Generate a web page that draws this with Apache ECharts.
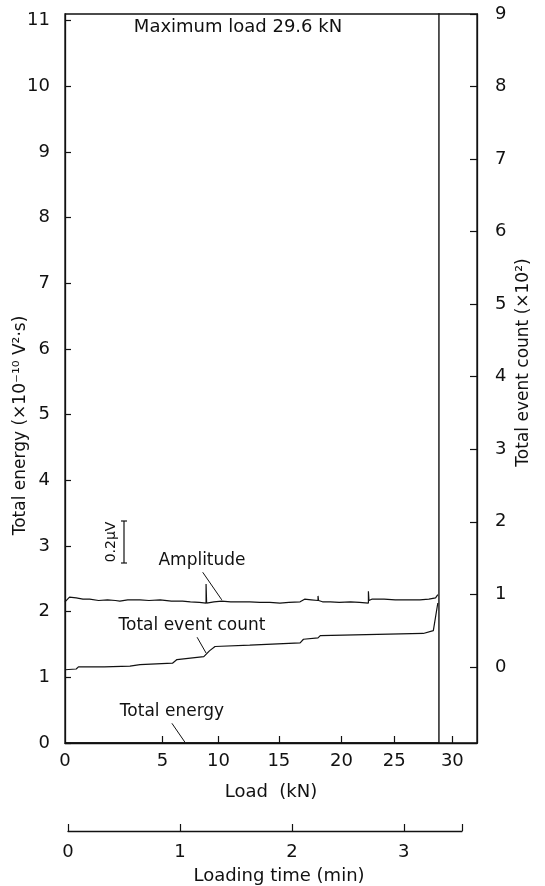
<!DOCTYPE html>
<html>
<head>
<meta charset="utf-8">
<script src="https://cdn.jsdelivr.net/npm/echarts@6/dist/echarts.min.js"></script>
<style>
html, body { margin: 0; padding: 0; background: #fff; }
#main { width: 545px; height: 886px; }
</style>
</head>
<body>
<div id="main"></div>
<script>
// load ticks sit at the recorder time (min) where that load was reached
var loadTickTimes = [0, 0.87, 1.37, 1.91, 2.47, 2.94, 3.46];
var loadTickLabels = ['0', '5', '10', '15', '20', '25', '30'];
var timeTicks = [0, 1, 2, 3];
var timeAxisEnd = 3.52;
var energyTicks = [0, 1, 2, 3, 4, 5, 6, 7, 8, 9, 10, 11];
var countTicks = [0, 1, 2, 3, 4, 5, 6, 7, 8, 9];

// [time (min), value]
var amplitude = [
    [0, 2.15], [0.04, 2.22], [0.1, 2.21], [0.16, 2.19], [0.22, 2.19], [0.3, 2.17],
    [0.38, 2.18], [0.45, 2.17], [0.49, 2.16], [0.56, 2.18], [0.62, 2.18], [0.67, 2.18],
    [0.75, 2.17], [0.85, 2.18], [0.95, 2.16], [1.05, 2.16], [1.12, 2.15], [1.2, 2.14],
    [1.26, 2.13], [1.26, 2.42], [1.265, 2.13], [1.33, 2.15], [1.4, 2.16], [1.48, 2.15],
    [1.56, 2.15], [1.65, 2.15], [1.74, 2.14], [1.83, 2.14], [1.92, 2.13], [2.0, 2.14],
    [2.1, 2.15], [2.14, 2.19], [2.2, 2.18], [2.26, 2.17], [2.26, 2.24], [2.265, 2.17],
    [2.3, 2.15], [2.37, 2.15], [2.45, 2.14], [2.55, 2.15], [2.63, 2.14], [2.71, 2.13],
    [2.71, 2.31], [2.715, 2.17], [2.74, 2.19], [2.85, 2.19], [2.95, 2.18], [3.05, 2.18],
    [3.17, 2.18], [3.25, 2.19], [3.31, 2.21], [3.33, 2.26]
];
var eventCount = [
    [0, -0.04], [0.1, -0.03], [0.12, 0.0], [0.35, 0.0], [0.58, 0.01], [0.67, 0.03],
    [0.96, 0.05], [1.0, 0.1], [1.24, 0.14], [1.29, 0.22], [1.34, 0.28], [1.65, 0.3],
    [2.1, 0.33], [2.13, 0.38], [2.26, 0.4], [2.28, 0.43], [3.2, 0.46], [3.29, 0.5],
    [3.33, 0.88]
];
var totalEnergy = [[0, 0], [3.34, 0], [3.34, 12]];

// leader lines from the curve names to the curves
var leaderAmp = [[1.23, 2.6], [1.4, 2.18]];
var leaderCount = [[1.18, 1.61], [1.26, 1.37]];
var leaderEnergy = [[0.955, 0.3], [1.07, 0.015]];

var FONT = 'DejaVu Sans';
var INK = '#111';

var chart = echarts.init(document.getElementById('main'));

function lineSeries(data, yIdx, width) {
    return {
        type: 'line',
        xAxisIndex: 0,
        yAxisIndex: yIdx,
        data: data,
        showSymbol: false,
        silent: true,
        animation: false,
        lineStyle: { color: INK, width: width }
    };
}

var option = {
    backgroundColor: '#fff',
    animation: false,
    grid: [
        { left: 65, top: 14, width: 412, height: 729, outerBoundsMode: 'none', containLabel: false,
          show: true, borderColor: INK, borderWidth: 1.3, backgroundColor: 'transparent' },
        { left: 68, top: 830, width: 394, height: 1, outerBoundsMode: 'none', containLabel: false }
    ],
    xAxis: [{
        type: 'value',
        gridIndex: 0,
        min: 0,
        max: 3.68,
        axisLine: { onZero: false, lineStyle: { color: INK, width: 1.3 } },
        splitLine: { show: false },
        axisTick: { inside: true, length: 7, customValues: loadTickTimes.slice(1), lineStyle: { color: INK, width: 1.2 } },
        axisLabel: {
            customValues: loadTickTimes,
            margin: 9,
            color: INK,
            fontFamily: FONT,
            fontSize: 18,
            formatter: function (v) {
                var i = loadTickTimes.indexOf(v);
                return i >= 0 ? loadTickLabels[i] : '';
            }
        },
        name: 'Load  (kN)',
        nameLocation: 'middle',
        nameGap: 40,
        nameTextStyle: { color: INK, fontFamily: FONT, fontSize: 18 }
    }, {
        type: 'value',
        gridIndex: 1,
        position: 'bottom',
        min: 0,
        max: timeAxisEnd,
        axisLine: { onZero: false, lineStyle: { color: INK, width: 1.3 } },
        splitLine: { show: false },
        axisTick: { inside: true, length: 7, customValues: timeTicks.concat([timeAxisEnd]), lineStyle: { color: INK, width: 1.2 } },
        axisLabel: {
            customValues: timeTicks,
            margin: 12,
            color: INK,
            fontFamily: FONT,
            fontSize: 18
        },
        name: 'Loading time (min)',
        nameLocation: 'middle',
        nameGap: 36,
        nameTextStyle: { color: INK, fontFamily: FONT, fontSize: 18, padding: [0, 0, 0, 28] }
    }],
    yAxis: [{
        type: 'value',
        gridIndex: 0,
        min: 0,
        max: 11.1,
        axisLine: { show: true, onZero: false, lineStyle: { color: INK, width: 1.3 } },
        splitLine: { show: false },
        axisTick: { inside: true, length: 6, customValues: energyTicks, lineStyle: { color: INK, width: 1.2 } },
        axisLabel: { customValues: energyTicks, margin: 15, color: INK, fontFamily: FONT, fontSize: 18 },
        name: 'Total energy (×10⁻¹⁰ V²·s)',
        nameLocation: 'middle',
        nameGap: 36,
        nameRotate: 90,
        nameMoveOverlap: false,
        nameTextStyle: { color: INK, fontFamily: FONT, fontSize: 17, padding: [0, 94, 0, 0] }
    }, {
        type: 'value',
        gridIndex: 0,
        position: 'right',
        min: -1.05,
        max: 9,
        axisLine: { show: true, onZero: false, lineStyle: { color: INK, width: 1.3 } },
        splitLine: { show: false },
        axisTick: { inside: true, length: 7, customValues: countTicks, lineStyle: { color: INK, width: 1.2 } },
        axisLabel: { customValues: countTicks, margin: 18, color: INK, fontFamily: FONT, fontSize: 18 },
        name: 'Total event count (×10²)',
        nameLocation: 'middle',
        nameGap: 38,
        nameRotate: 90,
        nameMoveOverlap: false,
        nameTextStyle: { color: INK, fontFamily: FONT, fontSize: 17, padding: [0, 0, 0, 32] }
    }, {
        type: 'value',
        gridIndex: 1,
        show: false
    }],
    series: [
        lineSeries(amplitude, 0, 1.2),
        lineSeries(eventCount, 1, 1.2),
        lineSeries(totalEnergy, 0, 1.4),
        lineSeries(leaderAmp, 0, 1),
        lineSeries(leaderCount, 0, 1),
        lineSeries(leaderEnergy, 0, 1)
    ]
};
chart.setOption(option);

// curve names and the amplitude scale bar
function textAt(txt, x, y, size, rot) {
    return {
        type: 'text',
        x: x,
        y: y,
        rotation: rot || 0,
        silent: true,
        style: { text: txt, fill: INK, font: size + 'px "' + FONT + '"', align: 'center', verticalAlign: 'middle' }
    };
}
chart.setOption({
    graphic: [
        textAt('Maximum load 29.6 kN', 238, 27, 18),
        textAt('Amplitude', 202, 561, 17),
        textAt('Total event count', 192, 626, 17),
        textAt('Total energy', 172, 712, 17),
        textAt('0.2μV', 111, 542, 14, Math.PI / 2),
        { type: 'line', silent: true, shape: { x1: 124, y1: 521, x2: 124, y2: 563 }, style: { stroke: INK, lineWidth: 1.2 } },
        { type: 'line', silent: true, shape: { x1: 121, y1: 521, x2: 127, y2: 521 }, style: { stroke: INK, lineWidth: 1.2 } },
        { type: 'line', silent: true, shape: { x1: 121, y1: 563, x2: 127, y2: 563 }, style: { stroke: INK, lineWidth: 1.2 } }
    ]
});
</script>
</body>
</html>
